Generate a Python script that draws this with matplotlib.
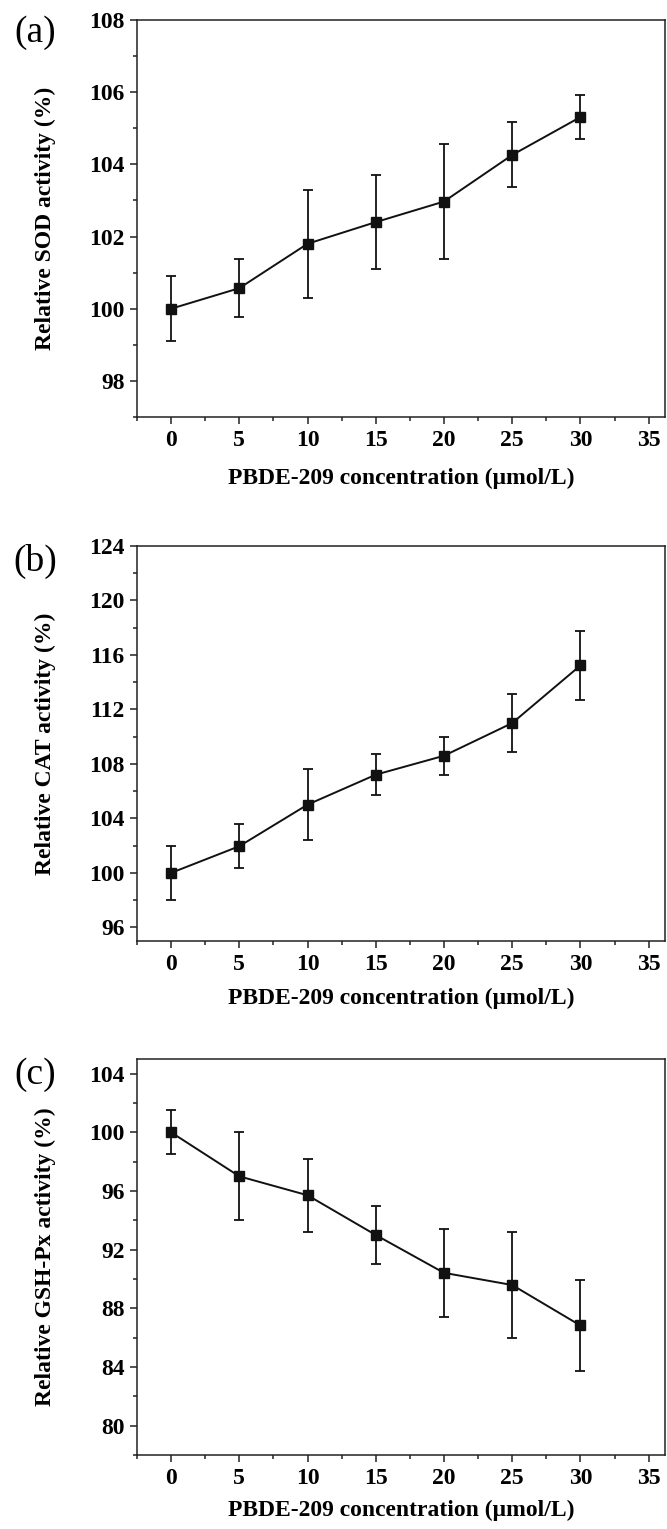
import matplotlib
matplotlib.use('Agg')
import matplotlib.pyplot as plt
from matplotlib.ticker import MultipleLocator

plt.rcParams['font.family'] = ['Liberation Serif', 'DejaVu Serif']

conc = [0, 5, 10, 15, 20, 25, 30]

sod = [100.0, 100.57, 101.8, 102.4, 102.97, 104.26, 105.31]
sod_err = [0.9, 0.8, 1.5, 1.3, 1.6, 0.9, 0.6]

cat = [100.0, 101.96, 105.01, 107.21, 108.6, 111.0, 115.23]
cat_err = [2.0, 1.6, 2.6, 1.5, 1.4, 2.1, 2.5]

gsh = [100.0, 97.0, 95.71, 93.0, 90.42, 89.59, 86.83]
gsh_err = [1.5, 3.0, 2.5, 2.0, 3.0, 3.6, 3.1]

panels = [
    ('(a)', 'Relative SOD activity (%)', sod, sod_err, (97, 108), 2, 1),
    ('(b)', 'Relative CAT activity (%)', cat, cat_err, (95, 124), 4, 2),
    ('(c)', 'Relative GSH-Px activity (%)', gsh, gsh_err, (78, 105), 4, 2),
]

W, H = 667, 1529
# axes boxes in pixels: (top, bottom)
boxes = [(20, 417), (546, 941), (1059, 1455)]
xlabel_top = [468, 988, 1500]
letter_y = [33, 561, 1075]

fig = plt.figure(figsize=(W / 100, H / 100), dpi=100)

for (letter, ylab, vals, errs, ylim, major, minor), (top, bot), xl_top, ly in zip(
        panels, boxes, xlabel_top, letter_y):
    left, right = 137, 665
    ax = fig.add_axes([left / W, 1 - bot / H, (right - left) / W, (bot - top) / H])
    ax.errorbar(conc, vals, yerr=errs, color='#111111', marker='s', markersize=7,
                linewidth=1.4, elinewidth=1.3, capsize=3.8, capthick=1.3)
    ax.set_xlim(-2.5, 36.2)
    ax.set_ylim(*ylim)
    ax.xaxis.set_major_locator(MultipleLocator(5))
    ax.xaxis.set_minor_locator(MultipleLocator(2.5))
    ax.yaxis.set_major_locator(MultipleLocator(major))
    ax.yaxis.set_minor_locator(MultipleLocator(minor))
    ax.tick_params(which='both', direction='out', top=False, right=False,
                   width=1.1, color='#222222')
    ax.tick_params(which='major', length=5, pad=4, labelsize=17)
    ax.tick_params(which='minor', length=3)
    for lbl in ax.get_xticklabels() + ax.get_yticklabels():
        lbl.set_fontweight('bold')
    for s in ax.spines.values():
        s.set_linewidth(1.1)
        s.set_color('#222222')

    ax.set_ylabel(ylab, fontsize=17, fontweight='bold')
    ax.yaxis.set_label_coords((56 - left) / (right - left), 0.5)
    ax.set_xlabel('PBDE-209 concentration (\u03bcmol/L)', fontsize=17, fontweight='bold')
    ax.xaxis.set_label_coords(0.5, -(xl_top - bot) / (bot - top))
    ax.xaxis.label.set_va('top')

    fig.text(35 / W, 1 - ly / H, letter, fontsize=27, ha='center', va='center')

fig.savefig('out.png', dpi=100)
